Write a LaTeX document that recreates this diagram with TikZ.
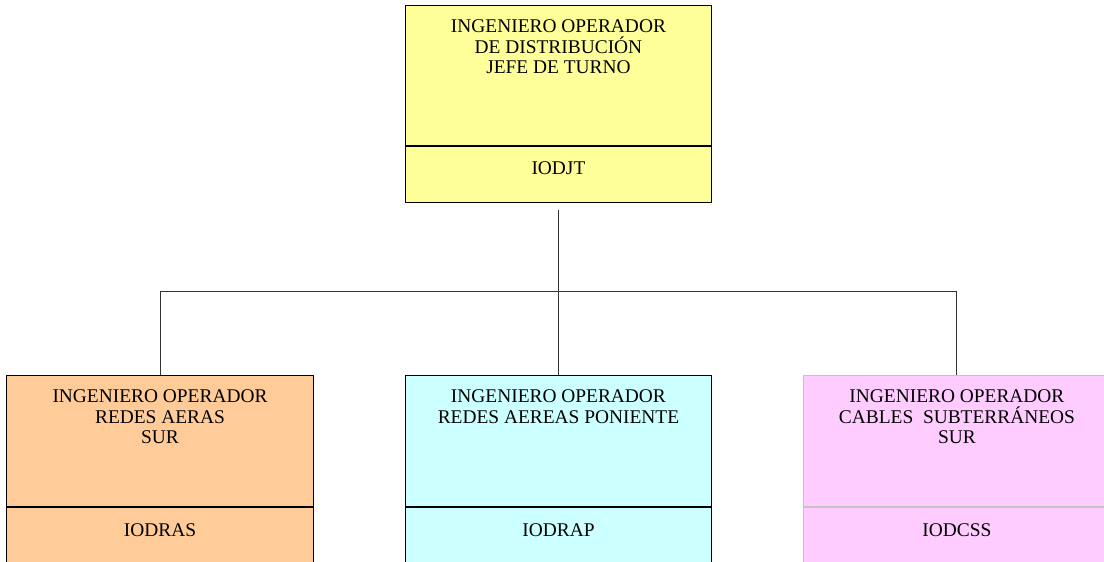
\documentclass[tikz,border=0pt]{standalone}
\usepackage{fontspec}
\setmainfont{Liberation Serif}
\usetikzlibrary{positioning}
\definecolor{jefe-yellow}{HTML}{FFFF99}
\definecolor{sur-orange}{HTML}{FFCC99}
\definecolor{poniente-cyan}{HTML}{CCFFFF}
\definecolor{cables-pink}{HTML}{FFCCFF}
\definecolor{soft-line}{HTML}{C4C4C4}

\begin{document}
\begin{tikzpicture}[every node/.style={font=\fontsize{9.7}{10.2}\selectfont},
    upbox/.style={draw, line width=0.5pt, minimum width=5.386cm, inner sep=0pt},
    codebox/.style={draw, line width=0.5pt, minimum width=5.386cm, minimum height=0.984cm,
      text height=6.5pt, text depth=6.1pt, inner sep=0pt},
    titletext/.style={inner sep=0pt, align=center},
    link/.style={draw=black!80, line width=0.5pt}]
    \clip (0, 0) rectangle (19.401, -9.876);
    % jefe de turno
    \node[upbox, fill=jefe-yellow, minimum height=2.466cm] (jt) at (9.814, -1.321) {};
    \node[titletext, below=7.6pt of jt.north] (jtt) {INGENIERO OPERADOR\\DE DISTRIBUCIÓN\\JEFE DE TURNO};
    \node[codebox, fill=jefe-yellow, below=0pt of jt] (jtc) {IODJT};
    % operadores
    \node[upbox, fill=sur-orange, minimum height=2.309cm] (ras) at (2.812, -7.750) {};
    \node[titletext, below=7.3pt of ras.north] (rast) {INGENIERO OPERADOR\\REDES AERAS\\SUR};
    \node[codebox, fill=sur-orange, below=0pt of ras] (rasc) {IODRAS};
    \node[upbox, fill=poniente-cyan, minimum height=2.309cm] (rap) at (9.814, -7.750) {};
    \node[titletext, below=7.3pt of rap.north] (rapt) {INGENIERO OPERADOR\\REDES AEREAS PONIENTE};
    \node[codebox, fill=poniente-cyan, below=0pt of rap] (rapc) {IODRAP};
    \node[upbox, draw=soft-line, fill=cables-pink, minimum height=2.309cm] (css) at (16.817, -7.750) {};
    \node[titletext, below=7.3pt of css.north] (csst) {INGENIERO OPERADOR\\CABLES~~SUBTERRÁNEOS\\SUR};
    \node[codebox, draw=soft-line, fill=cables-pink, below=0pt of css] (cssc) {IODCSS};
    % lineas
    \coordinate (bus) at (9.814, -5.131);
    \draw[link, shorten <=3.5pt] (jtc.south) -- (rap.north);
    \draw[link] (ras.north) -- (ras.north |- bus) -- (css.north |- bus) -- (css.north);
\end{tikzpicture}
\end{document}
